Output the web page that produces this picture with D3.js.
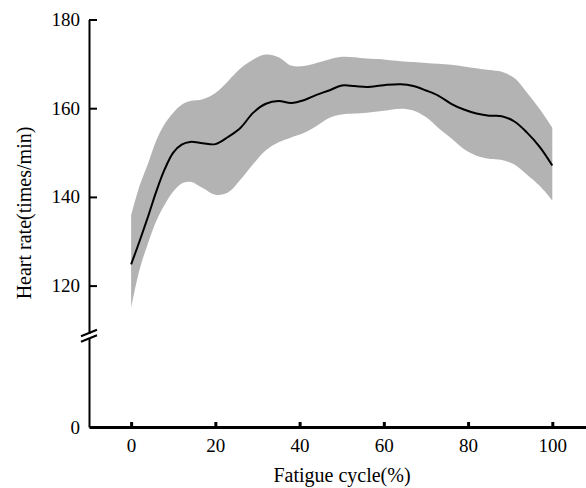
<!DOCTYPE html>
<html>
<head>
<meta charset="utf-8">
<script src="https://cdn.jsdelivr.net/npm/d3@7"></script>
<style>
  body { margin: 0; background: #fff; }
  text { font-family: "Liberation Serif", "Times New Roman", serif; fill: #000; }
</style>
</head>
<body>
<svg id="chart" width="586" height="488"></svg>
<script>
// fatigue cycle (%) and heart rate readings
var cycle = [0, 2, 4, 6, 8, 10, 12, 14, 17, 20, 23, 26, 29, 32, 35, 38, 41, 44, 47, 50,
             53, 56, 60, 64, 67, 70, 73, 76, 79, 82, 85, 88, 91, 94, 97, 100];
var meanHR = [124.8, 130, 135.5, 141.3, 146.3, 150, 151.8, 152.4, 152.1, 151.9, 153.5, 155.6, 159, 161, 161.6, 161.2, 161.8, 163, 164, 165.1,
              165, 164.8, 165.2, 165.4, 165, 164, 162.8, 161, 159.7, 158.8, 158.3, 158.2, 157, 154.5, 151.3, 147.1];
var upperHR = [135.8, 142.5, 147.5, 152.8, 156.5, 159, 160.8, 161.6, 162, 163.4, 166.1, 169, 171, 172.1, 171.5, 169.6, 169.5, 170.2, 171, 171.6,
               171.5, 171.2, 171, 170.6, 170.4, 170.2, 170, 169.8, 169.4, 169, 168.6, 168.2, 166.8, 163.5, 159.8, 155.6];
var lowerHR = [115, 123.6, 129.5, 134.6, 138.3, 141.2, 143, 143.4, 142, 140.5, 141, 143.9, 147.4, 150.5, 152.3, 153.4, 154.4, 156, 157.8, 158.6,
               158.8, 159, 159.4, 159.9, 159.5, 158, 155.5, 153.2, 150.8, 149.3, 148.6, 148.3, 147.3, 145, 142.5, 139.2];
var xTicks = [0, 20, 40, 60, 80, 100];
var yTicksTop = [120, 140, 160, 180];
var yTicksBottom = [0];

var svg = d3.select('#chart');

var x = d3.scaleLinear().domain([-10, 108]).range([89, 586]);
var yTop = d3.scaleLinear().domain([109.2, 180]).range([333.5, 19.5]);  // upper part, above the break
var yBot = d3.scaleLinear().domain([0, 20]).range([427, 338]);          // lower part, below the break

var rows = cycle.map(function (c, i) {
    return { x: c, m: meanHR[i], hi: upperHR[i], lo: lowerHR[i] };
});

// band
var band = d3.area()
    .x(function (d) { return x(d.x); })
    .y0(function (d) { return yTop(d.lo); })
    .y1(function (d) { return yTop(d.hi); })
    .curve(d3.curveCatmullRom.alpha(0.5));
svg.append('path').datum(rows)
    .attr('d', band)
    .attr('fill', '#b3b3b3');

// mean line
var line = d3.line()
    .x(function (d) { return x(d.x); })
    .y(function (d) { return yTop(d.m); })
    .curve(d3.curveCatmullRom.alpha(0.5));
svg.append('path').datum(rows)
    .attr('d', line)
    .attr('fill', 'none')
    .attr('stroke', '#000')
    .attr('stroke-width', 2);

// y axis, top section
var gyTop = svg.append('g')
    .attr('transform', 'translate(89,0)')
    .call(d3.axisLeft(yTop).tickValues(yTicksTop).tickSizeInner(-8).tickSizeOuter(0).tickPadding(9));

// y axis, bottom section
var gyBot = svg.append('g')
    .attr('transform', 'translate(89,0)')
    .call(d3.axisLeft(yBot).tickValues(yTicksBottom).tickSizeInner(0).tickSizeOuter(0).tickPadding(9));

[gyTop, gyBot].forEach(function (g) {
    g.select('.domain').attr('stroke', '#000').attr('stroke-width', 2);
    g.selectAll('.tick line').attr('stroke', '#000').attr('stroke-width', 2);
    g.selectAll('.tick text').attr('font-size', 19);
});

// break marks
svg.append('g').selectAll('line')
    .data([333, 338.5])
    .enter().append('line')
    .attr('x1', 81).attr('x2', 97)
    .attr('y1', function (d) { return d + 3.2; })
    .attr('y2', function (d) { return d - 3.2; })
    .attr('stroke', '#000')
    .attr('stroke-width', 2);

// x axis
var gx = svg.append('g')
    .attr('transform', 'translate(0,427)')
    .call(d3.axisBottom(x).tickValues(xTicks).tickSizeInner(-5).tickSizeOuter(0).tickPadding(12));
gx.select('.domain').attr('stroke', '#000').attr('stroke-width', 3);
gx.selectAll('.tick line').attr('stroke', '#000').attr('stroke-width', 3);
gx.selectAll('.tick text').attr('font-size', 19);

// axis titles
svg.append('text')
    .attr('x', 342).attr('y', 482)
    .attr('text-anchor', 'middle')
    .attr('font-size', 20)
    .text('Fatigue cycle(%)');

svg.append('text')
    .attr('transform', 'translate(31,213) rotate(-90)')
    .attr('text-anchor', 'middle')
    .attr('font-size', 20)
    .text('Heart rate(times/min)');
</script>
</body>
</html>
